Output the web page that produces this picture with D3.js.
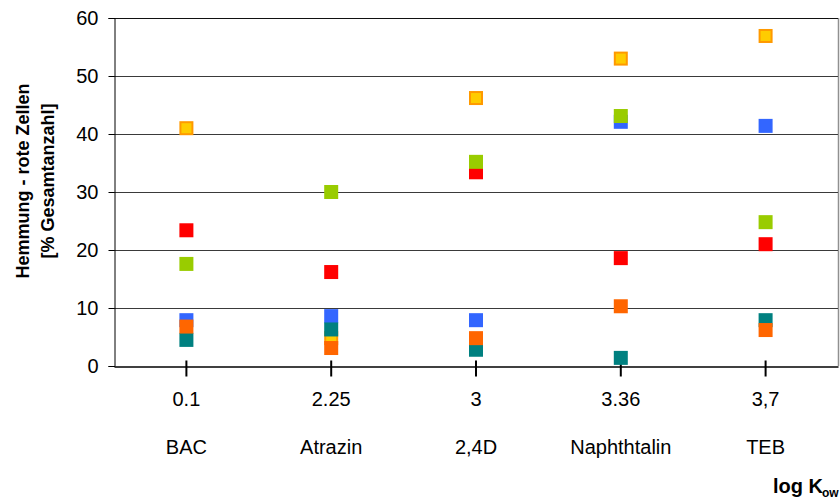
<!DOCTYPE html>
<html><head><meta charset="utf-8">
<script src="https://cdn.jsdelivr.net/npm/d3@7/dist/d3.min.js"></script>
<style>body{margin:0;background:#fff}svg{display:block}text{font-family:Arial,"Liberation Sans",sans-serif}</style>
</head><body><svg id="c" width="840" height="503"></svg>
<script>
const categories = ["BAC","Atrazin","2,4D","Naphthtalin","TEB"];
const logKow = ["0.1","2.25","3","3.36","3,7"];
const yTicks = [0,10,20,30,40,50,60];
// series values per category (drawing order)
const blueVals   = [7.9, 8.6, 7.9, 42.1, 41.4];
const yellowVals = [41.0, 4.8, 46.2, 53.0, 56.9];
const redVals    = [23.4, 16.2, 33.4, 18.6, 21.0];
const greenVals  = [17.6, 30.0, 35.2, 43.1, 24.8];
const tealVals   = [4.5, 6.3, 2.8, 1.4, 7.9];
const orangeVals = [6.8, 3.1, 4.8, 10.3, 6.2];

const series = [
  {vals: blueVals,   fill:"#3366FF", stroke:"#3366FF"},
  {vals: yellowVals, fill:"#FFCC00", stroke:"#FF9900"},
  {vals: redVals,    fill:"#FF0000", stroke:"#FF0000"},
  {vals: greenVals,  fill:"#99CC00", stroke:"#99CC00"},
  {vals: tealVals,   fill:"#008080", stroke:"#008080"},
  {vals: orangeVals, fill:"#FF6600", stroke:"#FF6600"}
];

const FF = "Arial, 'Liberation Sans', sans-serif";
const svg = d3.select("#c");
const L=114, R=838, T=18, B=366;
const x = d3.scaleBand().domain(categories).range([L,R]);
const y = d3.scaleLinear().domain([0,60]).range([B,T]);

// plot border (right)
svg.append("line").attr("x1",R+0.5).attr("x2",R+0.5).attr("y1",T).attr("y2",B).attr("stroke","#909090").attr("stroke-width",1.5);
// gridlines
svg.append("g").selectAll("line").data(yTicks.filter(d=>d>0)).join("line")
  .attr("x1",L).attr("x2",R).attr("y1",d=>Math.round(y(d))+0.5).attr("y2",d=>Math.round(y(d))+0.5)
  .attr("stroke",d=>d===60?"#111":"#3a3a3a").attr("stroke-width",1);

// y axis
const ya = svg.append("g").attr("transform",`translate(${L+0.5},0)`)
  .call(d3.axisLeft(y).tickValues(yTicks).tickSize(6).tickPadding(10).tickFormat(d3.format("d")));
ya.select(".domain").attr("stroke","#000");
ya.selectAll(".tick line").attr("stroke","#000");
ya.selectAll("text").attr("font-size",20).attr("fill","#000").style("font-family",FF);

// x axis
const xa = svg.append("g").attr("transform",`translate(0,${B+0.5})`)
  .call(d3.axisBottom(x).tickSize(10).tickSizeOuter(0).tickFormat((d,i)=>logKow[i]).tickPadding(15));
xa.select(".domain").attr("stroke","#000").attr("stroke-width",1.5);
xa.selectAll(".tick line").attr("stroke","#000").attr("stroke-width",2).attr("y1",-6);
xa.selectAll("text").attr("font-size",20).attr("fill","#000").style("font-family",FF);

// category names
svg.append("g").selectAll("text").data(categories).join("text")
  .attr("x",d=>x(d)+x.bandwidth()/2).attr("y",454).attr("text-anchor","middle")
  .attr("font-size",20).style("font-family",FF).text(d=>d);

// markers
const S=14;
series.forEach(s=>{
  svg.append("g").selectAll("rect").data(s.vals).join("rect")
    .attr("x",(d,i)=>x(categories[i])+x.bandwidth()/2-S/2+1)
    .attr("y",d=>y(d)-S/2+1)
    .attr("width",S-2).attr("height",S-2)
    .attr("fill",s.fill).attr("stroke",s.stroke).attr("stroke-width",2);
});

// y title
const yt = svg.append("text").attr("transform","translate(0,181) rotate(-90)")
  .attr("text-anchor","middle").attr("font-weight","bold").attr("font-size",18).style("font-family",FF);
yt.append("tspan").attr("x",0).attr("y",29).text("Hemmung - rote Zellen");
yt.append("tspan").attr("x",0).attr("y",54).text("[% Gesamtanzahl]");

// x title
svg.append("text").attr("x",823).attr("y",493).attr("text-anchor","end")
  .attr("font-weight","bold").attr("font-size",20).style("font-family",FF).text("log K");
svg.append("text").attr("x",822).attr("y",497).attr("font-weight","bold").attr("font-size",12).style("font-family",FF).text("ow");
</script></body></html>
